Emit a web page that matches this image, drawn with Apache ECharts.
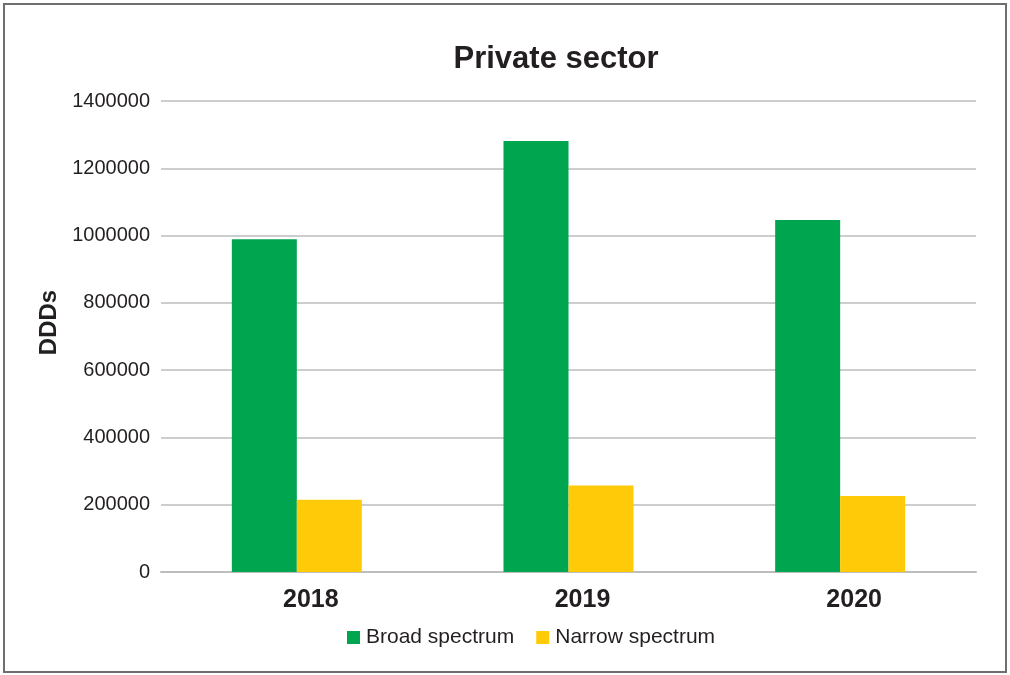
<!DOCTYPE html>
<html>
<head>
<meta charset="utf-8">
<script src="https://cdn.jsdelivr.net/npm/echarts@6/dist/echarts.min.js"></script>
<style>
html,body{margin:0;padding:0;background:#fff;}
#c{width:1010px;height:675px;}
</style>
</head>
<body>
<div id="c"></div>
<script>
const categories = ['2018', '2019', '2020'];
const broadSpectrum = [989000, 1281000, 1046000];
const narrowSpectrum = [215000, 257000, 226000];
const seriesNames = ['Broad spectrum', 'Narrow spectrum'];

const chart = echarts.init(document.getElementById('c'));
const font = 'Liberation Sans, Arial, sans-serif';
chart.setOption({
  animation: false,
  textStyle: { fontFamily: font },
  graphic: [{
    type: 'rect', shape: { x: 4, y: 4, width: 1002, height: 668 },
    style: { fill: 'none', stroke: '#6e6e6e', lineWidth: 2 }, silent: true
  }],
  title: {
    text: 'Private sector', left: 551, top: 39, textAlign: 'center',
    textStyle: { fontSize: 31, fontWeight: 'bold', color: '#231f20', fontFamily: font }
  },
  legend: {
    top: 622, left: 342, itemWidth: 13, itemHeight: 13, itemGap: 22,
    icon: 'rect',
    textStyle: { fontSize: 21, color: '#231f20', fontFamily: font, padding: [0,0,0,1] },
    data: seriesNames
  },
  grid: { left: 161, right: 34, top: 101, bottom: 103 },
  xAxis: {
    type: 'category', data: categories,
    axisLine: { lineStyle: { color: '#bdbdbd', width: 2 } },
    axisTick: { show: false },
    axisLabel: { fontSize: 25, fontWeight: 'bold', color: '#231f20', margin: 16, padding: [0,0,0,28] }
  },
  yAxis: {
    type: 'value', min: 0, max: 1400000, interval: 200000,
    name: 'DDDs', nameLocation: 'middle', nameGap: 95, nameRotate: 90,
    nameTextStyle: { fontSize: 24, fontWeight: 'bold', color: '#231f20', padding: [0,0,0,28] },
    axisLine: { show: false }, axisTick: { show: false },
    axisLabel: { fontSize: 20, color: '#231f20', margin: 11, formatter: v => String(v) },
    splitLine: { lineStyle: { color: '#bdbdbd', width: 1.5 } }
  },
  series: [
    { name: seriesNames[0], type: 'bar', data: broadSpectrum, barWidth: 65, barGap: '0%',
      itemStyle: { color: '#00a550' } },
    { name: seriesNames[1], type: 'bar', data: narrowSpectrum, barWidth: 65, barGap: '0%',
      itemStyle: { color: '#ffcb08' } }
  ]
});
</script>
</body>
</html>
